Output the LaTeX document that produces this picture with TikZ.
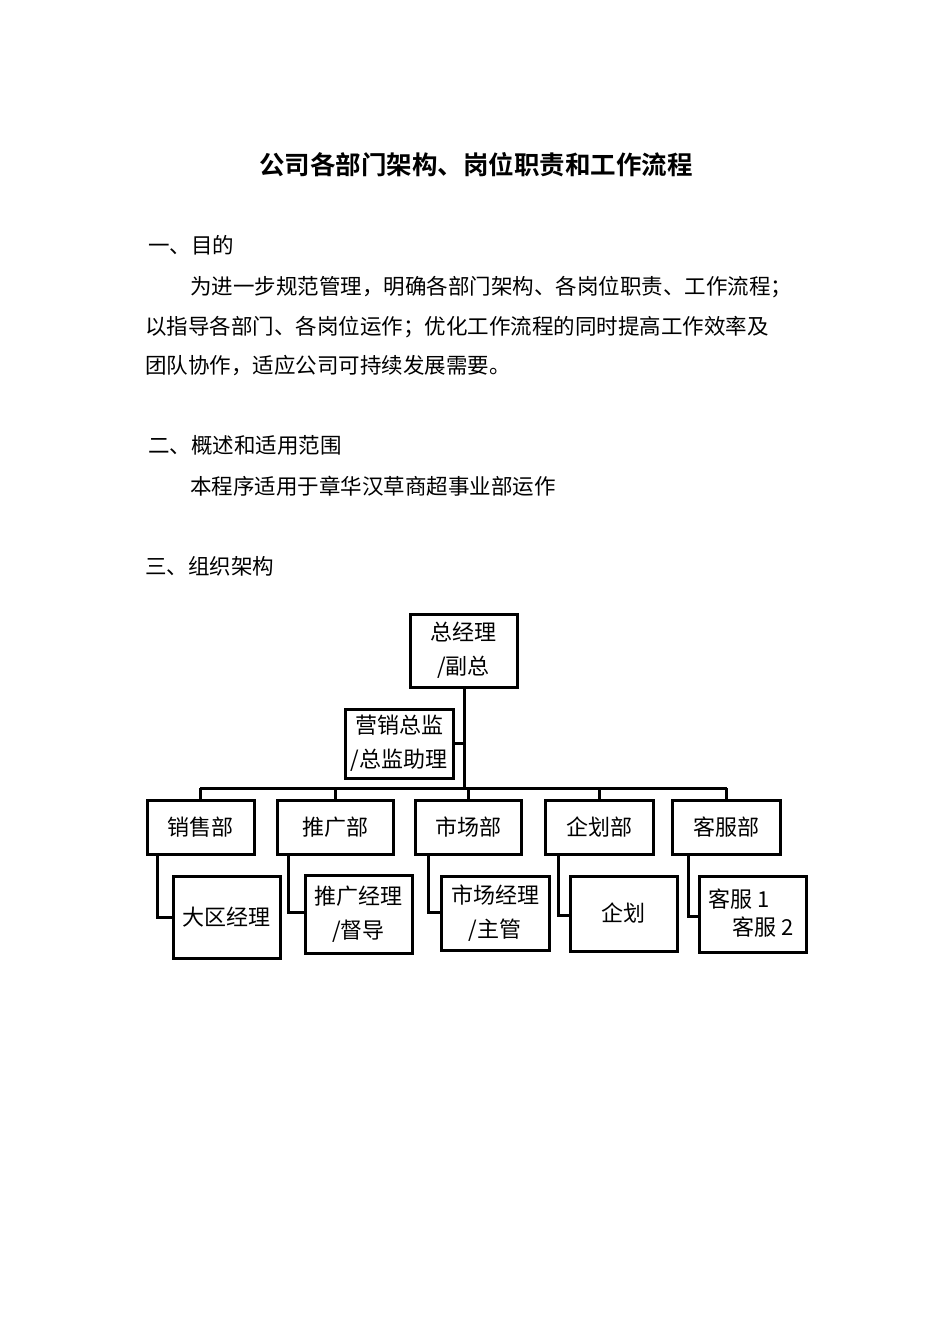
\documentclass[tikz,border=0pt]{standalone}
\usepackage{fontspec}
\setmainfont{Noto Sans CJK SC}
\newfontfamily\cjkb{Noto Sans CJK SC Bold}
\begin{document}
\begin{tikzpicture}[x=1pt,y=-1pt,
  bx/.style={draw,line width=3pt},
  ln/.style={line width=3pt},
  tx/.style={font=\fontsize{21.5}{24}\selectfont,anchor=west,inner sep=0pt},
  ct/.style={font=\fontsize{22}{34}\selectfont,align=center,inner sep=0pt}]
\useasboundingbox (0,0) rectangle (950,1344);
\node[font=\cjkb\fontsize{25.5}{28}\selectfont] (title) at (476,165) {公司各部门架构、岗位职责和工作流程};
\node[tx] (h1) at (148,245) {一、目的};
\node[tx] (p1) at (190,287) {为进一步规范管理，明确各部门架构、各岗位职责、工作流程；};
\node[tx] (p2) at (145,327) {以指导各部门、各岗位运作；优化工作流程的同时提高工作效率及};
\node[tx] (p3) at (145,366) {团队协作，适应公司可持续发展需要。};
\node[tx] (h2) at (148,445) {二、概述和适用范围};
\node[tx] (p4) at (190,486) {本程序适用于章华汉草商超事业部运作};
\node[tx] (h3) at (145,566) {三、组织架构};
% boxes
\draw[bx] (410,614) rectangle (517,687);
\node[ct] (gm) at (463.5,650.5) {总经理\\/副总};
\draw[bx] (345,709) rectangle (453,778);
\node[ct] (mk) at (399,743.5) {营销总监\\/总监助理};
\draw[ln] (464,687) -- (464,788);
\draw[ln] (453,743) -- (464,743);
\draw[ln] (200,788) -- (727,788);
\foreach \a/\b/\c/\t/\n in {147/254/200/销售部/d1,277/393/335/推广部/d2,415/521/468/市场部/d3,545/653/599/企划部/d4,672/780/726/客服部/d5}{
  \draw[ln] (\c,788) -- (\c,800);
  \draw[bx] (\a,800) rectangle (\b,854);
  \node[ct] (\n) at (\c,827) {\t};
}
\foreach \lx/\a/\b/\y/\yb/\cy in {157/173/280/876/958/917,288/305/412/875/953/912,428/441/549/876/950/912,558/570/677/876/951/915,688/699/806/876/952/916}{
  \draw[ln] (\lx,854) -- (\lx,\cy) -- (\a,\cy);
  \draw[bx] (\a,\y) rectangle (\b,\yb);
}
\node[ct] (s1) at (226.5,917) {大区经理};
\node[ct] (s2) at (358.5,914) {推广经理\\/督导};
\node[ct] (s3) at (495,913) {市场经理\\/主管};
\node[ct] (s4) at (623.5,913.5) {企划};
\node[ct,font=\fontsize{22}{28}\selectfont,align=left] (s5) at (751,913) {客服 1\\\hspace*{1.1em}客服 2};
\end{tikzpicture}
\end{document}
